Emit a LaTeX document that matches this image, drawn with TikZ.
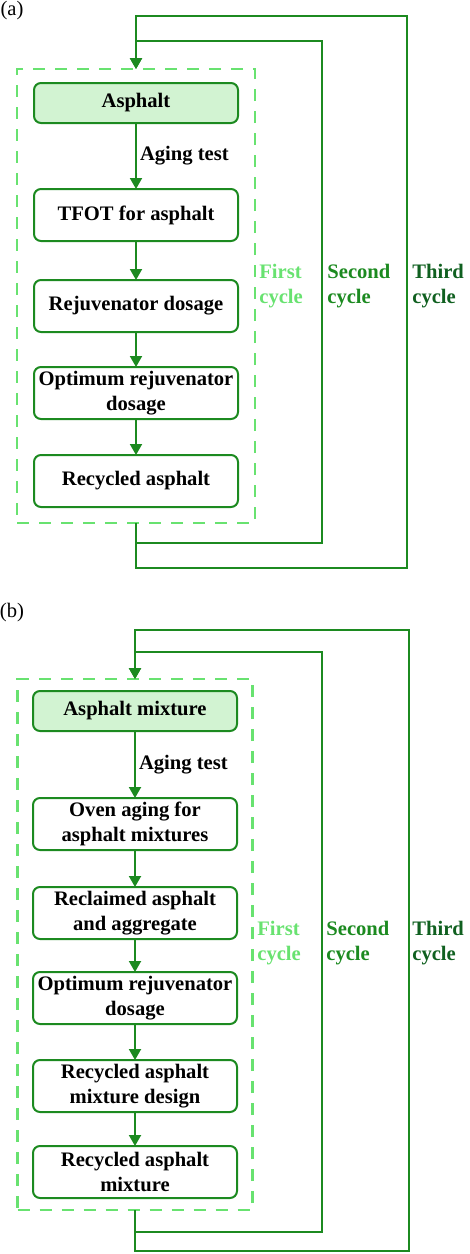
\documentclass[tikz,border=0pt]{standalone}
\usepackage{fontspec}
\setmainfont{Liberation Serif}
\usetikzlibrary{arrows.meta,positioning}
\definecolor{linegreen}{RGB}{28,138,32}
\definecolor{lightgreen}{RGB}{104,226,112}
\definecolor{boxfill}{RGB}{210,243,210}
\definecolor{darkgreen}{RGB}{16,96,32}

\tikzset{
  stepbox/.style={draw=linegreen, line width=1pt, rounded corners=3.5pt, fill=white,
    minimum width=102pt, minimum height=26pt, inner xsep=1pt, inner ysep=1pt, outer sep=0pt,
    align=center, font=\bfseries\fontsize{10.3}{12.5}\selectfont},
  startbox/.style={stepbox, fill=boxfill, minimum height=20pt},
  cyclebox/.style={draw=lightgreen, line width=1.3pt, dash pattern=on 6pt off 5pt, outer sep=0pt},
  flow/.style={-{Triangle[length=5.5pt,width=6pt]}, draw=linegreen, line width=1pt},
  cycleline/.style={flow},
  flowlabel/.style={right, inner sep=1.5pt, font=\bfseries\fontsize{10.3}{12.5}\selectfont},
  cyclelabel/.style={anchor=west, align=left, inner sep=0pt, font=\bfseries\fontsize{10.3}{12.5}\selectfont},
  panellabel/.style={inner sep=0pt, font=\fontsize{10.3}{12.5}\selectfont}
}

\begin{document}
\begin{tikzpicture}[x=0.5pt, y=-0.5pt]
\useasboundingbox (0,0) rectangle (470,1254);

% ---------- (a) asphalt ----------
\node[panellabel] (labA) at (12,11) {(a)};
\node[cyclebox, minimum width=119pt, minimum height=227pt] (cyA) at (136,296) {};

\node[startbox] (asA) at (136,103) {Asphalt};
\node[stepbox] (tfotA) at (136,215) {TFOT for asphalt};
\node[stepbox] (rejA) at (136,306) {Rejuvenator dosage};
\node[stepbox] (optA) at (136,393) {Optimum rejuvenator\\dosage};
\node[stepbox] (recA) at (136,481) {Recycled asphalt};

\draw[flow] (asA) -- node[flowlabel] {Aging test} (tfotA);
\draw[flow] (tfotA) -- (rejA);
\draw[flow] (rejA) -- (optA);
\draw[flow] (optA) -- (recA);

% cycles
\draw[cycleline] (cyA.south) |- (322,543) |- (136,41) -- (cyA.north);
\draw[cycleline] (cyA.south) |- (407,568) |- (136,16) -- (cyA.north);

\node[cyclelabel, text=lightgreen] (firA) at (259,286) {First\\cycle};
\node[cyclelabel, text=linegreen] (secA) at (327,286) {Second\\cycle};
\node[cyclelabel, text=darkgreen] (thiA) at (412,286) {Third\\cycle};

% ---------- (b) asphalt mixture ----------
\node[panellabel] (labB) at (12,613) {(b)};
\node[cyclebox, minimum width=117.5pt, minimum height=265.5pt] (cyB) at (135,944.5) {};

\node[startbox] (asB) at (135,711) {Asphalt mixture};
\node[stepbox] (ovenB) at (135,824) {Oven aging for\\asphalt mixtures};
\node[stepbox] (rapB) at (135,913) {Reclaimed asphalt\\and aggregate};
\node[stepbox] (optB) at (135,998) {Optimum rejuvenator\\dosage};
\node[stepbox] (desB) at (135,1086) {Recycled asphalt\\mixture design};
\node[stepbox] (recB) at (135,1172) {Recycled asphalt\\mixture};

\draw[flow] (asB) -- node[flowlabel] {Aging test} (ovenB);
\draw[flow] (ovenB) -- (rapB);
\draw[flow] (rapB) -- (optB);
\draw[flow] (optB) -- (desB);
\draw[flow] (desB) -- (recB);

% cycles
\draw[cycleline] (cyB.south) |- (322,1232) |- (135,652) -- (cyB.north);
\draw[cycleline] (cyB.south) |- (409,1251) |- (135,630) -- (cyB.north);

\node[cyclelabel, text=lightgreen] (firB) at (257,943) {First\\cycle};
\node[cyclelabel, text=linegreen] (secB) at (326,943) {Second\\cycle};
\node[cyclelabel, text=darkgreen] (thiB) at (412,943) {Third\\cycle};
\end{tikzpicture}
\end{document}
